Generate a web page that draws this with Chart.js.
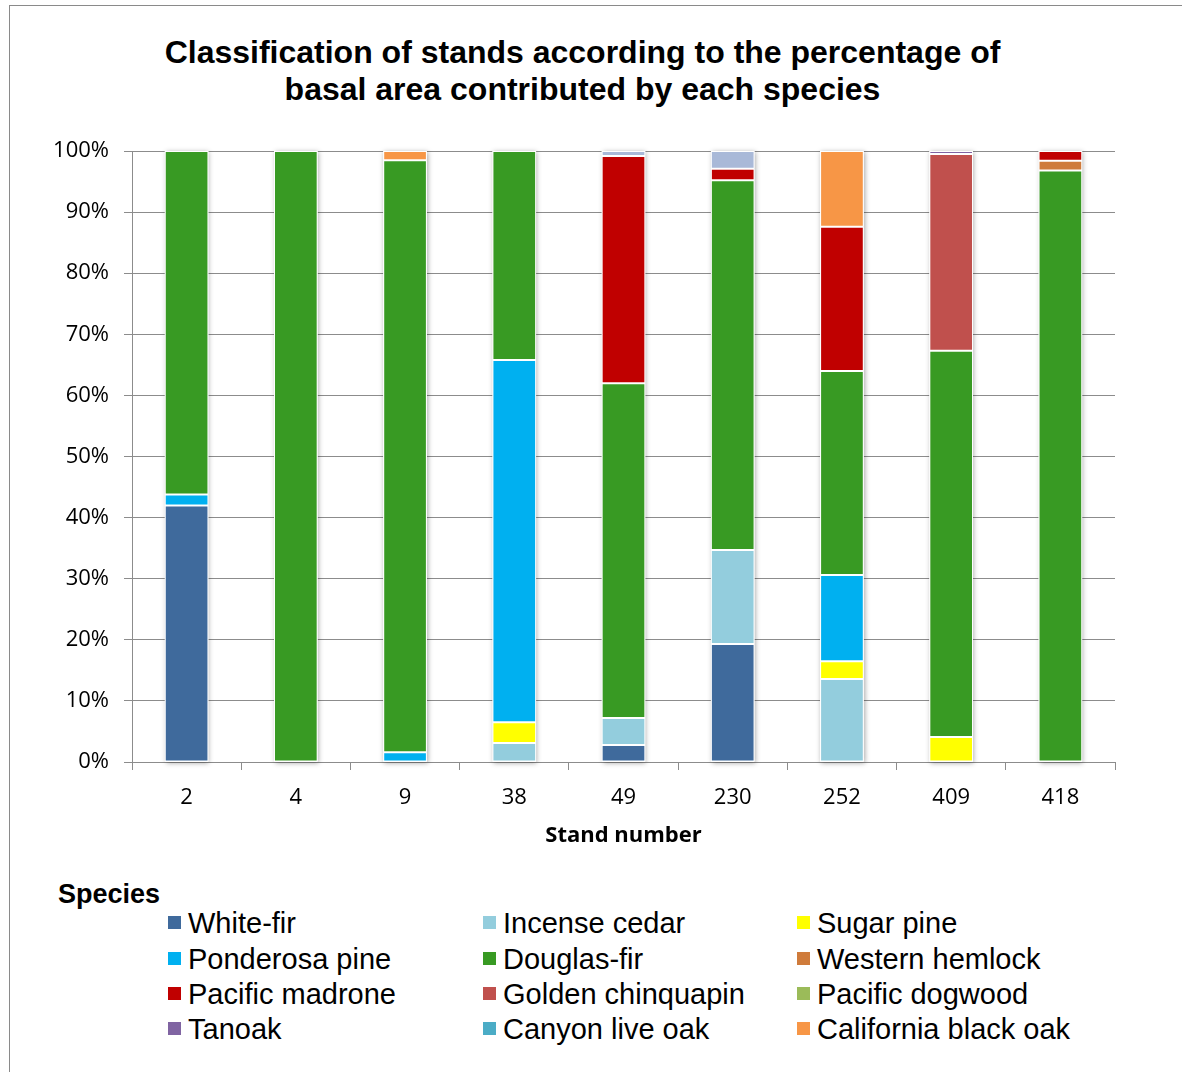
<!DOCTYPE html>
<html>
<head>
<meta charset="utf-8">
<script src="https://cdn.jsdelivr.net/npm/chart.js@4"></script>
<style>
  html, body { margin: 0; padding: 0; background: #fff; }
  #page { position: relative; width: 1182px; height: 1072px; overflow: hidden; font-family: "Liberation Sans", Arial, sans-serif; }
  #frame { position: absolute; left: 9px; top: 5px; width: 1300px; height: 1300px; border: 1px solid #8a8a8a; box-sizing: border-box; }
  #title { position: absolute; left: 0; top: 34px; width: 1165px; text-align: center; font-weight: bold; font-size: 32px; line-height: 37px; color: #000; margin: 0; }
  #plot { position: absolute; left: 0; top: 0; width: 1182px; height: 870px; }
  #legendTitle { position: absolute; left: 58px; top: 878px; font-weight: bold; font-size: 27px; line-height: 32px; color: #000; }
  #legend { position: absolute; left: 0; top: 0; }
  .item { position: absolute; height: 36px; line-height: 36px; font-size: 29px; color: #000; white-space: nowrap; }
  .item i { position: absolute; left: 0; top: 11px; width: 13px; height: 13px; }
  .item span { position: absolute; left: 20px; top: 0; }
</style>
</head>
<body>
<div id="page">
  <div id="frame"></div>
  <div id="title">Classification of stands according to the percentage of<br>basal area contributed by each species</div>
  <div id="plot"><canvas id="chart"></canvas></div>
  <div id="legendTitle">Species</div>
  <div id="legend"></div>
</div>
<script>
// Stand numbers along the x axis
const stands = ['2', '4', '9', '38', '49', '230', '252', '409', '418'];

// Percentage of basal area per species, one value per stand
const whiteFir          = [42.0, 0, 0, 0, 2.8, 19.3, 0, 0, 0];
const incenseCedar      = [0, 0, 0, 3.1, 4.4, 15.4, 13.6, 0, 0];
const sugarPine         = [0, 0, 0, 3.4, 0, 0, 2.9, 4.1, 0];
const ponderosaPine     = [1.8, 0, 1.6, 59.3, 0, 0, 14.1, 0, 0];
const douglasFir        = [56.2, 100, 96.9, 34.2, 54.8, 60.5, 33.4, 63.2, 96.8];
const westernHemlock    = [0, 0, 0, 0, 0, 0, 0, 0, 1.6];
const pacificMadrone    = [0, 0, 0, 0, 37.2, 1.9, 23.6, 0, 1.6];
const goldenChinquapin  = [0, 0, 0, 0, 0, 0, 0, 32.2, 0];
const pacificDogwood    = [0, 0, 0, 0, 0, 0, 0, 0, 0];
const tanoak            = [0, 0, 0, 0, 0, 0, 0, 0.5, 0];
const canyonLiveOak     = [0, 0, 0, 0, 0, 0, 0, 0, 0];
const californiaBlackOak= [0, 0, 1.5, 0, 0, 0, 12.4, 0, 0];
const otherSpecies      = [0, 0, 0, 0, 0.8, 2.9, 0, 0, 0];

// Y axis tick labels (0..100 in steps of 10)
const yTickLabels = ['0%', '10%', '20%', '30%', '40%', '50%', '60%', '70%', '80%', '90%', '100%'];

const series = [
  { label: 'White-fir',            data: whiteFir,           color: '#3F6A9C', legend: true },
  { label: 'Incense cedar',        data: incenseCedar,       color: '#93CDDD', legend: true },
  { label: 'Sugar pine',           data: sugarPine,          color: '#FFFF00', legend: true },
  { label: 'Ponderosa pine',       data: ponderosaPine,      color: '#00B0F0', legend: true },
  { label: 'Douglas-fir',          data: douglasFir,         color: '#389A23', legend: true },
  { label: 'Western hemlock',      data: westernHemlock,     color: '#CF7B3B', legend: true },
  { label: 'Pacific madrone',      data: pacificMadrone,     color: '#C00000', legend: true },
  { label: 'Golden chinquapin',    data: goldenChinquapin,   color: '#C0504D', legend: true },
  { label: 'Pacific dogwood',      data: pacificDogwood,     color: '#9BBB59', legend: true },
  { label: 'Tanoak',               data: tanoak,             color: '#8064A2', legend: true },
  { label: 'Canyon live oak',      data: canyonLiveOak,      color: '#4BACC6', legend: true },
  { label: 'California black oak', data: californiaBlackOak, color: '#F79646', legend: true },
  { label: 'Other',                data: otherSpecies,       color: '#A9B9D8', legend: false }
];

// Soft shadow behind each stacked column
const barShadow = {
  id: 'barShadow',
  beforeDatasetsDraw(chart) {
    const ctx = chart.ctx;
    const y = chart.scales.y;
    const meta = chart.getDatasetMeta(0);
    ctx.save();
    ctx.shadowColor = 'rgba(0,0,0,0.35)';
    ctx.shadowBlur = 5;
    ctx.shadowOffsetX = 1;
    ctx.shadowOffsetY = 1;
    ctx.fillStyle = '#ffffff';
    meta.data.forEach((bar, i) => {
      const total = chart.data.datasets.reduce((s, d) => s + (d.data[i] || 0), 0);
      const top = y.getPixelForValue(total);
      const bottom = y.getPixelForValue(0);
      ctx.fillRect(bar.x - bar.width / 2, top, bar.width, bottom - top);
    });
    ctx.restore();
  }
};

const gridColor = '#8c8c8c';
const tickFont = { family: '"Open Sans", sans-serif', size: 22 };

new Chart(document.getElementById('chart'), {
  type: 'bar',
  data: {
    labels: stands,
    datasets: series.map(s => ({
      label: s.label,
      data: s.data,
      backgroundColor: s.color,
      borderColor: '#ffffff',
      borderWidth: 1,
      borderSkipped: false,
      categoryPercentage: 1.0,
      barPercentage: 0.4
    }))
  },
  options: {
    responsive: true,
    maintainAspectRatio: false,
    animation: false,
    layout: { padding: { left: 0, right: 67, top: 151, bottom: 0 } },
    plugins: {
      legend: { display: false },
      tooltip: { enabled: false },
      title: { display: false }
    },
    scales: {
      x: {
        stacked: true,
        grid: { offset: true, drawOnChartArea: false, drawTicks: true, tickLength: 8, color: gridColor },
        border: { color: gridColor },
        ticks: { font: tickFont, color: '#000', padding: 15 },
        title: {
          display: true,
          text: 'Stand number',
          color: '#000',
          font: { family: '"Open Sans", sans-serif', size: 22, weight: 'bold' },
          padding: { top: 0, bottom: 21 }
        },
        afterFit(scale) { scale.height = 108; }
      },
      y: {
        stacked: true,
        min: 0,
        max: 100,
        grid: { color: gridColor, tickLength: 8 },
        border: { color: gridColor },
        ticks: {
          stepSize: 10,
          font: tickFont,
          color: '#000',
          padding: 15,
          callback: (v) => yTickLabels[Math.round(v / 10)]
        },
        afterFit(scale) { scale.width = 132; }
      }
    }
  },
  plugins: [barShadow]
});

// Legend: three columns, filled row by row
const legendEl = document.getElementById('legend');
const colX = [168, 483, 797];
const rowY = [905, 941, 976, 1011];
series.filter(s => s.legend).forEach((s, i) => {
  const item = document.createElement('div');
  item.className = 'item';
  item.style.left = colX[i % 3] + 'px';
  item.style.top = rowY[Math.floor(i / 3)] + 'px';
  const sw = document.createElement('i');
  sw.style.background = s.color;
  const tx = document.createElement('span');
  tx.textContent = s.label;
  item.appendChild(sw);
  item.appendChild(tx);
  legendEl.appendChild(item);
});
</script>
</body>
</html>
